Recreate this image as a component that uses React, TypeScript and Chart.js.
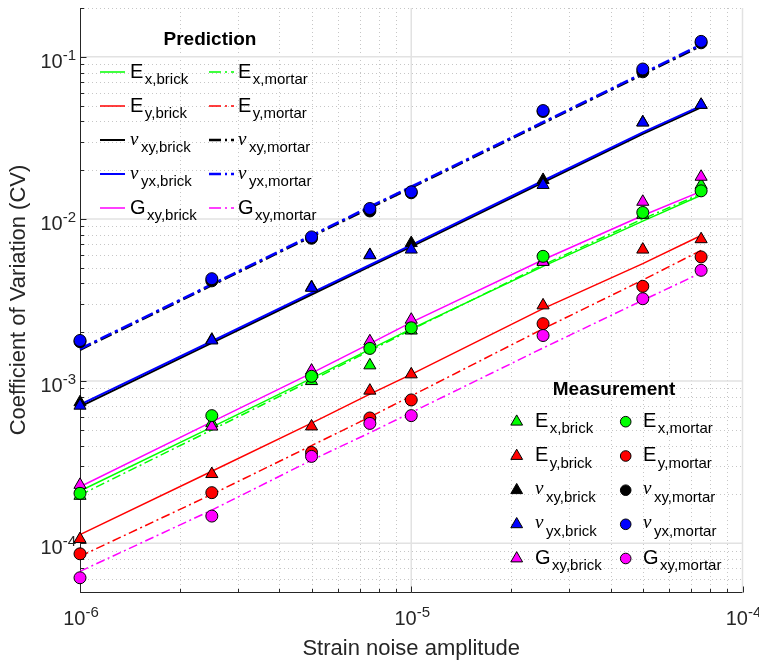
import React, { useEffect, useRef } from 'react';
import { Chart, registerables } from 'chart.js';

Chart.register(...registerables);

// ---------------- DATA ----------------
const strainNoise = [1e-6, 2.5e-6, 5e-6, 7.5e-6, 1e-5, 2.5e-5, 5e-5, 7.5e-5];

// Prediction (lines)
const predExBrick = [2.1e-4, 5.2e-4, 1.04e-3, 1.57e-3, 2.1e-3, 5.1e-3, 9.7e-3, 1.4e-2];
const predExMortar = [1.98e-4, 5.0e-4, 1.01e-3, 1.54e-3, 2.07e-3, 5.2e-3, 1.0e-2, 1.43e-2];
const predEyBrick = [1.13e-4, 2.78e-4, 5.5e-4, 8.3e-4, 1.1e-3, 2.8e-3, 5.3e-3, 7.9e-3];
const predEyMortar = [8.3e-5, 2.0e-4, 4.0e-4, 6.0e-4, 8.1e-4, 2.1e-3, 4.2e-3, 6.4e-3];
const predNuxyBrick = [6.95e-4, 1.72e-3, 3.42e-3, 5.1e-3, 6.75e-3, 1.68e-2, 3.35e-2, 4.88e-2];
const predNuxyMortar = [1.56e-3, 3.9e-3, 7.8e-3, 1.17e-2, 1.56e-2, 3.9e-2, 7.8e-2, 1.17e-1];
const predNuyxBrick = [7.15e-4, 1.76e-3, 3.5e-3, 5.2e-3, 6.9e-3, 1.72e-2, 3.42e-2, 4.98e-2];
const predNuyxMortar = [1.58e-3, 3.95e-3, 7.9e-3, 1.19e-2, 1.58e-2, 3.95e-2, 7.9e-2, 1.19e-1];
const predGxyBrick = [2.23e-4, 5.6e-4, 1.12e-3, 1.7e-3, 2.3e-3, 5.6e-3, 1.05e-2, 1.48e-2];
const predGxyMortar = [6.7e-5, 1.6e-4, 3.25e-4, 4.8e-4, 6.4e-4, 1.6e-3, 3.15e-3, 4.65e-3];

// Measurement (markers)
const measExBrick = [1.96e-4, 5.5e-4, 1.0e-3, 1.25e-3, 2.05e-3, 5.5e-3, 1.06e-2, 1.62e-2];
const measEyBrick = [1.06e-4, 2.67e-4, 5.25e-4, 8.73e-4, 1.1e-3, 2.93e-3, 6.47e-3, 7.5e-3];
const measNuxyBrick = [7.4e-4, 1.8e-3, 3.8e-3, 6.0e-3, 7.1e-3, 1.74e-2, 3.95e-2, 5.05e-2];
const measNuyxBrick = [7.05e-4, 1.78e-3, 3.76e-3, 5.97e-3, 6.47e-3, 1.62e-2, 3.93e-2, 5.06e-2];
const measGxyBrick = [2.29e-4, 5.24e-4, 1.16e-3, 1.76e-3, 2.39e-3, 5.43e-3, 1.276e-2, 1.82e-2];
const measExMortar = [2.03e-4, 6.12e-4, 1.07e-3, 1.59e-3, 2.13e-3, 5.88e-3, 1.096e-2, 1.49e-2];
const measEyMortar = [8.6e-5, 2.05e-4, 3.63e-4, 5.92e-4, 7.65e-4, 2.26e-3, 3.84e-3, 5.83e-3];
const measNuxyMortar = [1.75e-3, 4.15e-3, 7.6e-3, 1.12e-2, 1.45e-2, 4.6e-2, 8.08e-2, 1.22e-1];
const measNuyxMortar = [1.78e-3, 4.28e-3, 7.75e-3, 1.16e-2, 1.47e-2, 4.66e-2, 8.41e-2, 1.245e-1];
const measGxyMortar = [6.12e-5, 1.47e-4, 3.43e-4, 5.48e-4, 6.12e-4, 1.91e-3, 3.22e-3, 4.82e-3];

// Properties / labels
const propSymbols = ['E', 'E', 'ν', 'ν', 'G'];
const propSubs = ['x', 'y', 'xy', 'yx', 'xy'];
const propColors = ['#00ff00', '#ff0000', '#000000', '#0000ff', '#ff00ff'];
const predBrick = [predExBrick, predEyBrick, predNuxyBrick, predNuyxBrick, predGxyBrick];
const predMortar = [predExMortar, predEyMortar, predNuxyMortar, predNuyxMortar, predGxyMortar];
const measBrick = [measExBrick, measEyBrick, measNuxyBrick, measNuyxBrick, measGxyBrick];
const measMortar = [measExMortar, measEyMortar, measNuxyMortar, measNuyxMortar, measGxyMortar];

// Axes
const xMin = 1e-6;
const xMax = 1e-4;
const yMin = 5e-5;
const yMax = 0.2;
const xTickValues = [1e-6, 1e-5, 1e-4];
const xTickExps = ['-6', '-5', '-4'];
const yTickValues = [1e-4, 1e-3, 1e-2, 1e-1];
const yTickExps = ['-4', '-3', '-2', '-1'];
const xDecades = [-6, -5];
const yDecades = [-5, -4, -3, -2, -1];
const minorMultipliers = [2, 3, 4, 5, 6, 7, 8, 9];
const xTitle = 'Strain noise amplitude';
const yTitle = 'Coefficient of Variation (CV)';
const predTitle = 'Prediction';
const measTitle = 'Measurement';

const SANS = '"Liberation Sans", Arial, Helvetica, sans-serif';
const SERIF = '"Liberation Serif", "Times New Roman", serif';
const AXIS_COLOR = '#262626';

const thinDash = [9, 3.5, 2, 3.5];
const thickDash = [12, 4, 3, 4];
const lineWidthFor = (i: number) => (i === 2 || i === 3 ? 2 : 1.5);
const dashFor = (i: number) => (i === 2 || i === 3 ? thickDash : thinDash);
const ddWidthFor = (i: number) => (i === 2 || i === 3 ? 2.5 : 1.5);

function minorValues(decades: number[], lo: number, hi: number) {
  const out: number[] = [];
  for (const d of decades) {
    for (const m of [1, ...minorMultipliers]) {
      const v = m * Math.pow(10, d);
      if (m !== 1 && v >= lo * 0.999 && v <= hi * 1.001) out.push(v);
    }
  }
  return out;
}

function drawPow(ctx: CanvasRenderingContext2D, x: number, base: number, exp: string, mode: 'right' | 'center') {
  ctx.font = `20px ${SANS}`;
  const w1 = ctx.measureText('10').width;
  ctx.font = `15px ${SANS}`;
  const w2 = ctx.measureText(exp).width;
  const total = w1 + w2;
  const x0 = mode === 'right' ? x - total : x - total / 2;
  ctx.textAlign = 'left';
  ctx.textBaseline = 'alphabetic';
  ctx.font = `20px ${SANS}`;
  ctx.fillText('10', x0, base);
  ctx.font = `15px ${SANS}`;
  ctx.fillText(exp, x0 + w1, base - 8);
}

function drawLabel(ctx: CanvasRenderingContext2D, x: number, base: number, sym: string, sub: string) {
  ctx.textAlign = 'left';
  ctx.textBaseline = 'alphabetic';
  ctx.fillStyle = '#000';
  let w: number;
  if (sym === 'ν') {
    ctx.font = `italic 19px ${SERIF}`;
    ctx.fillText(sym, x, base - 1);
    w = ctx.measureText(sym).width + 1;
  } else {
    ctx.font = `20px ${SANS}`;
    ctx.fillText(sym, x, base);
    w = ctx.measureText(sym).width;
  }
  ctx.font = `15px ${SANS}`;
  ctx.fillText(sub, x + w + 1.5, base + 6.5);
}

function drawMarker(ctx: CanvasRenderingContext2D, style: 'triangle' | 'circle', x: number, y: number, r: number, color: string) {
  ctx.beginPath();
  if (style === 'circle') {
    ctx.arc(x, y, r, 0, Math.PI * 2);
  } else {
    let rad = 0;
    ctx.moveTo(x + Math.sin(rad) * r, y - Math.cos(rad) * r);
    rad += (2 * Math.PI) / 3;
    ctx.lineTo(x + Math.sin(rad) * r, y - Math.cos(rad) * r);
    rad += (2 * Math.PI) / 3;
    ctx.lineTo(x + Math.sin(rad) * r, y - Math.cos(rad) * r);
    ctx.closePath();
  }
  ctx.fillStyle = color;
  ctx.fill();
  ctx.lineWidth = 1;
  ctx.strokeStyle = '#000';
  ctx.setLineDash([]);
  ctx.stroke();
}

const axesPlugin = {
  id: 'matlabAxes',
  beforeDatasetsDraw(chart: any) {
    const ctx: CanvasRenderingContext2D = chart.ctx;
    const xs = chart.scales.x;
    const ys = chart.scales.y;
    const { left, right, top, bottom } = chart.chartArea;
    ctx.save();
    // minor grid (dotted)
    ctx.strokeStyle = '#c6c6c6';
    ctx.lineWidth = 1;
    ctx.setLineDash([1, 3]);
    for (const v of minorValues(xDecades, xMin, xMax)) {
      const p = Math.round(xs.getPixelForValue(v)) + 0.5;
      ctx.beginPath(); ctx.moveTo(p, top); ctx.lineTo(p, bottom); ctx.stroke();
    }
    for (const v of minorValues(yDecades, yMin, yMax)) {
      const p = Math.round(ys.getPixelForValue(v)) + 0.5;
      ctx.beginPath(); ctx.moveTo(left, p); ctx.lineTo(right, p); ctx.stroke();
    }
    // major grid
    ctx.setLineDash([]);
    ctx.strokeStyle = '#e2e2e2';
    ctx.lineWidth = 1.5;
    for (const v of xTickValues) {
      if (v === xMin) continue;
      const p = xs.getPixelForValue(v);
      ctx.beginPath(); ctx.moveTo(p, top); ctx.lineTo(p, bottom); ctx.stroke();
    }
    for (const v of yTickValues) {
      const p = ys.getPixelForValue(v);
      ctx.beginPath(); ctx.moveTo(left, p); ctx.lineTo(right, p); ctx.stroke();
    }
    // axis lines
    ctx.strokeStyle = AXIS_COLOR;
    ctx.lineWidth = 1;
    const ax = Math.round(left) + 0.5;
    const ay = Math.round(bottom) + 0.5;
    ctx.beginPath(); ctx.moveTo(ax, top); ctx.lineTo(ax, ay); ctx.lineTo(right, ay); ctx.stroke();
    // ticks
    for (const v of xTickValues) {
      const p = Math.round(xs.getPixelForValue(v)) + 0.5;
      ctx.beginPath(); ctx.moveTo(p, ay); ctx.lineTo(p, ay - 6); ctx.stroke();
    }
    for (const v of minorValues(xDecades, xMin, xMax)) {
      const p = Math.round(xs.getPixelForValue(v)) + 0.5;
      ctx.beginPath(); ctx.moveTo(p, ay); ctx.lineTo(p, ay - 3.5); ctx.stroke();
    }
    for (const v of yTickValues) {
      const p = Math.round(ys.getPixelForValue(v)) + 0.5;
      ctx.beginPath(); ctx.moveTo(ax, p); ctx.lineTo(ax + 6, p); ctx.stroke();
    }
    for (const v of minorValues(yDecades, yMin, yMax)) {
      const p = Math.round(ys.getPixelForValue(v)) + 0.5;
      ctx.beginPath(); ctx.moveTo(ax, p); ctx.lineTo(ax + 3.5, p); ctx.stroke();
    }
    // tick labels
    ctx.fillStyle = AXIS_COLOR;
    xTickValues.forEach((v, i) => {
      drawPow(ctx, xs.getPixelForValue(v) + 1, 625, xTickExps[i], 'center');
    });
    yTickValues.forEach((v, i) => {
      drawPow(ctx, left - 4, ys.getPixelForValue(v) + 11, yTickExps[i], 'right');
    });
    // axis titles
    ctx.font = `22px ${SANS}`;
    ctx.textAlign = 'center';
    ctx.textBaseline = 'alphabetic';
    ctx.fillText(xTitle, (left + right) / 2, 655);
    ctx.save();
    ctx.translate(25, (top + bottom) / 2);
    ctx.rotate(-Math.PI / 2);
    ctx.fillText(yTitle, 0, 0);
    ctx.restore();
    ctx.restore();
  },
  afterDraw(chart: any) {
    const ctx: CanvasRenderingContext2D = chart.ctx;
    ctx.save();
    // Prediction legend
    ctx.fillStyle = '#000';
    ctx.font = `bold 19px ${SANS}`;
    ctx.textAlign = 'center';
    ctx.textBaseline = 'alphabetic';
    ctx.fillText(predTitle, 210, 45);
    const predRows = [72, 106, 140, 174, 208];
    for (let i = 0; i < 5; i++) {
      const y = predRows[i];
      // brick: solid
      ctx.strokeStyle = propColors[i];
      ctx.lineWidth = lineWidthFor(i);
      ctx.setLineDash([]);
      ctx.beginPath(); ctx.moveTo(100, y); ctx.lineTo(125, y); ctx.stroke();
      drawLabel(ctx, 130, y + 5.5, propSymbols[i], propSubs[i] + ',brick');
      // mortar: dash-dot
      ctx.strokeStyle = propColors[i];
      ctx.lineWidth = ddWidthFor(i);
      ctx.setLineDash([12, 4, 2, 4]);
      ctx.beginPath(); ctx.moveTo(209, y); ctx.lineTo(234, y); ctx.stroke();
      ctx.setLineDash([]);
      drawLabel(ctx, 238, y + 5.5, propSymbols[i], propSubs[i] + ',mortar');
    }
    // Measurement legend
    ctx.fillStyle = '#000';
    ctx.font = `bold 19px ${SANS}`;
    ctx.textAlign = 'center';
    ctx.fillText(measTitle, 614, 395);
    const measRows = [421.7, 456, 490.2, 524.3, 558.5];
    for (let i = 0; i < 5; i++) {
      const y = measRows[i];
      drawMarker(ctx, 'triangle', 516.7, y, 6.8, propColors[i]);
      drawLabel(ctx, 535, y + 5, propSymbols[i], propSubs[i] + ',brick');
      drawMarker(ctx, 'circle', 625.7, y, 5.3, propColors[i]);
      drawLabel(ctx, 643, y + 5, propSymbols[i], propSubs[i] + ',mortar');
    }
    ctx.restore();
  },
};

function toPoints(arr: number[]) {
  return strainNoise.map((x, j) => ({ x, y: arr[j] }));
}

export default function App() {
  const canvasRef = useRef<HTMLCanvasElement | null>(null);

  useEffect(() => {
    if (!canvasRef.current) return;
    const datasets: any[] = [];
    let seq = 0;
    for (let i = 0; i < 5; i++) {
      datasets.push({
        label: `pred brick ${i}`,
        data: toPoints(predBrick[i]),
        borderColor: propColors[i],
        borderWidth: lineWidthFor(i),
        pointRadius: 0,
        fill: false,
        tension: 0,
        clip: false,
        order: 1000 - seq++,
      });
      datasets.push({
        label: `pred mortar ${i}`,
        data: toPoints(predMortar[i]),
        borderColor: propColors[i],
        borderWidth: ddWidthFor(i),
        borderDash: dashFor(i),
        pointRadius: 0,
        fill: false,
        tension: 0,
        clip: false,
        order: 1000 - seq++,
      });
    }
    for (let i = 0; i < 5; i++) {
      datasets.push({
        label: `meas brick ${i}`,
        data: toPoints(measBrick[i]),
        showLine: false,
        pointStyle: 'triangle',
        pointRadius: 7,
        pointBackgroundColor: propColors[i],
        pointBorderColor: '#000',
        pointBorderWidth: 1,
        clip: false,
        order: 1000 - seq++,
      });
    }
    for (let i = 0; i < 5; i++) {
      datasets.push({
        label: `meas mortar ${i}`,
        data: toPoints(measMortar[i]),
        showLine: false,
        pointStyle: 'circle',
        pointRadius: 6,
        pointBackgroundColor: propColors[i],
        pointBorderColor: '#000',
        pointBorderWidth: 1,
        clip: false,
        order: 1000 - seq++,
      });
    }

    const chart = new Chart(canvasRef.current, {
      type: 'line',
      data: { datasets },
      options: {
        responsive: false,
        animation: false,
        devicePixelRatio: 1,
        layout: { padding: { left: 80, right: 16.5, top: 8, bottom: 70 } },
        plugins: { legend: { display: false }, tooltip: { enabled: false } },
        scales: {
          x: { type: 'logarithmic', min: xMin, max: xMax, display: false },
          y: { type: 'logarithmic', min: yMin, max: yMax, display: false },
        },
      } as any,
      plugins: [axesPlugin as any],
    });
    return () => chart.destroy();
  }, []);

  return (
    <div style={{ position: 'absolute', left: 0, top: 0, width: 759, height: 662, background: '#fff' }}>
      <canvas ref={canvasRef} width={759} height={662} style={{ display: 'block' }} />
    </div>
  );
}
